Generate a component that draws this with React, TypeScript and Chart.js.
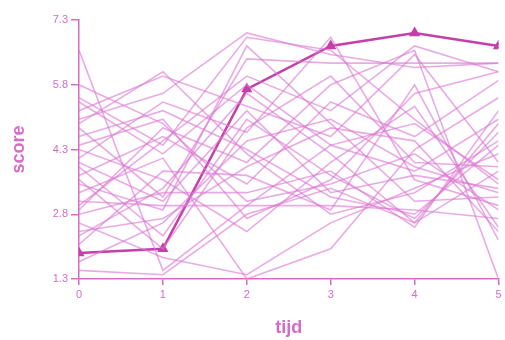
import React, { useEffect, useRef } from "react";
import { Chart, registerables } from "chart.js";

Chart.register(...registerables);

const timePoints = [0, 1, 2, 3, 4, 5];
const yTicks = [1.3, 2.8, 4.3, 5.8, 7.3];

const highlighted = [1.9, 2.0, 5.7, 6.7, 7.0, 6.7];

const s01 = [6.6, 1.5, 3.0, 4.4, 3.8, 5.0];
const s02 = [5.2, 6.0, 5.3, 4.6, 6.5, 4.0];
const s03 = [5.8, 4.9, 3.1, 3.5, 4.2, 2.9];
const s04 = [5.5, 4.4, 6.9, 6.6, 5.0, 3.5];
const s05 = [5.0, 5.6, 7.0, 6.5, 6.2, 6.3];
const s06 = [4.8, 3.2, 6.4, 6.3, 6.3, 6.3];
const s07 = [4.6, 5.2, 4.3, 3.2, 2.8, 4.4];
const s08 = [4.3, 3.6, 2.4, 4.0, 5.3, 2.5];
const s09 = [4.1, 5.4, 4.7, 6.9, 3.6, 3.0];
const s10 = [3.9, 2.3, 5.0, 3.7, 2.7, 4.7];
const s11 = [3.7, 4.6, 3.5, 5.4, 4.6, 5.9];
const s12 = [3.5, 2.9, 6.7, 4.9, 3.1, 3.2];
const s13 = [3.3, 4.1, 1.3, 2.0, 4.3, 5.5];
const s14 = [3.1, 3.0, 3.0, 3.0, 2.9, 2.7];
const s15 = [2.9, 4.8, 4.0, 5.8, 6.6, 1.3];
const s16 = [2.6, 1.8, 1.4, 2.6, 3.4, 4.2];
const s17 = [2.3, 3.4, 5.6, 4.2, 2.6, 3.8];
const s18 = [2.1, 3.8, 3.7, 2.9, 5.8, 2.2];
const s19 = [1.7, 2.6, 4.5, 5.0, 3.9, 3.3];
const s20 = [1.5, 1.4, 2.8, 3.4, 2.6, 4.9];
const s21 = [5.4, 4.2, 5.8, 4.4, 4.9, 3.6];
const s22 = [4.4, 5.0, 2.7, 3.6, 5.6, 6.1];
const s23 = [3.6, 2.0, 4.8, 6.0, 4.0, 3.9];
const s24 = [2.8, 3.3, 3.3, 3.8, 2.5, 5.2];
const s25 = [4.9, 6.1, 4.2, 2.8, 3.3, 4.5];
const s26 = [3.0, 4.5, 6.0, 5.2, 6.7, 6.1];
const s27 = [2.4, 2.7, 3.9, 4.8, 4.5, 2.4];
const s28 = [4.0, 3.1, 5.2, 3.3, 3.7, 3.4];

const subjects = [
  s01, s02, s03, s04, s05, s06, s07, s08, s09, s10, s11, s12, s13, s14,
  s15, s16, s17, s18, s19, s20, s21, s22, s23, s24, s25, s26, s27, s28,
];

const PINK = "#d46cc8";
const LIGHT = "rgba(220,120,210,0.62)";
const DARK = "#c440a8";

export default function App() {
  const ref = useRef<HTMLCanvasElement | null>(null);

  useEffect(() => {
    if (!ref.current) return;
    const toPts = (arr: number[]) => arr.map((v, i) => ({ x: timePoints[i], y: v }));
    const datasets: any[] = subjects.map((s) => ({
      data: toPts(s),
      borderColor: LIGHT,
      borderWidth: 1.6,
      pointRadius: 0,
      fill: false,
      tension: 0,
    }));
    datasets.push({
      data: toPts(highlighted),
      borderColor: DARK,
      backgroundColor: DARK,
      borderWidth: 2.5,
      pointRadius: 4,
      pointStyle: "triangle",
      fill: false,
      tension: 0,
    });

    const chart = new Chart(ref.current, {
      type: "line",
      data: { datasets },
      options: {
        animation: false,
        responsive: true,
        maintainAspectRatio: false,
        layout: { padding: { top: 20, right: 5, left: 0, bottom: 0 } },
        plugins: { legend: { display: false }, tooltip: { enabled: false } },
        scales: {
          x: {
            type: "linear",
            min: 0,
            max: 5,
            afterFit: (s: any) => {
              s.height = 61;
            },
            afterBuildTicks: (s: any) => {
              s.ticks = timePoints.map((v) => ({ value: v }));
            },
            ticks: {
              color: PINK,
              font: { family: "Liberation Sans, Arial, sans-serif", size: 11 },
              padding: 3,
              maxRotation: 0,
            },
            grid: { drawOnChartArea: false, drawTicks: true, tickLength: 6, color: PINK, lineWidth: 1.5 },
            border: { display: true, color: PINK, width: 1.5 },
            title: {
              display: true,
              text: "tijd",
              color: PINK,
              font: { family: "Liberation Sans, Arial, sans-serif", size: 18, weight: "bold" },
              padding: { top: 4, bottom: 1 },
            },
          },
          y: {
            type: "linear",
            min: 1.3,
            max: 7.3,
            afterFit: (s: any) => {
              s.width = 79;
            },
            afterBuildTicks: (s: any) => {
              s.ticks = yTicks.map((v) => ({ value: v }));
            },
            ticks: {
              color: PINK,
              font: { family: "Liberation Sans, Arial, sans-serif", size: 11 },
              padding: 3,
              callback: (v: any) => Number(v).toFixed(1),
            },
            grid: { drawOnChartArea: false, drawTicks: true, tickLength: 8, color: PINK, lineWidth: 1.5 },
            border: { display: true, color: PINK, width: 1.5 },
            title: {
              display: true,
              text: "score",
              color: PINK,
              font: { family: "Liberation Sans, Arial, sans-serif", size: 18, weight: "bold" },
              padding: { top: 8, bottom: 4 },
            },
          },
        },
      } as any,
    });
    return () => chart.destroy();
  }, []);

  return (
    <div style={{ position: "fixed", left: 0, top: 0, width: 505, height: 340, background: "#fff" }}>
      <canvas ref={ref} />
    </div>
  );
}
